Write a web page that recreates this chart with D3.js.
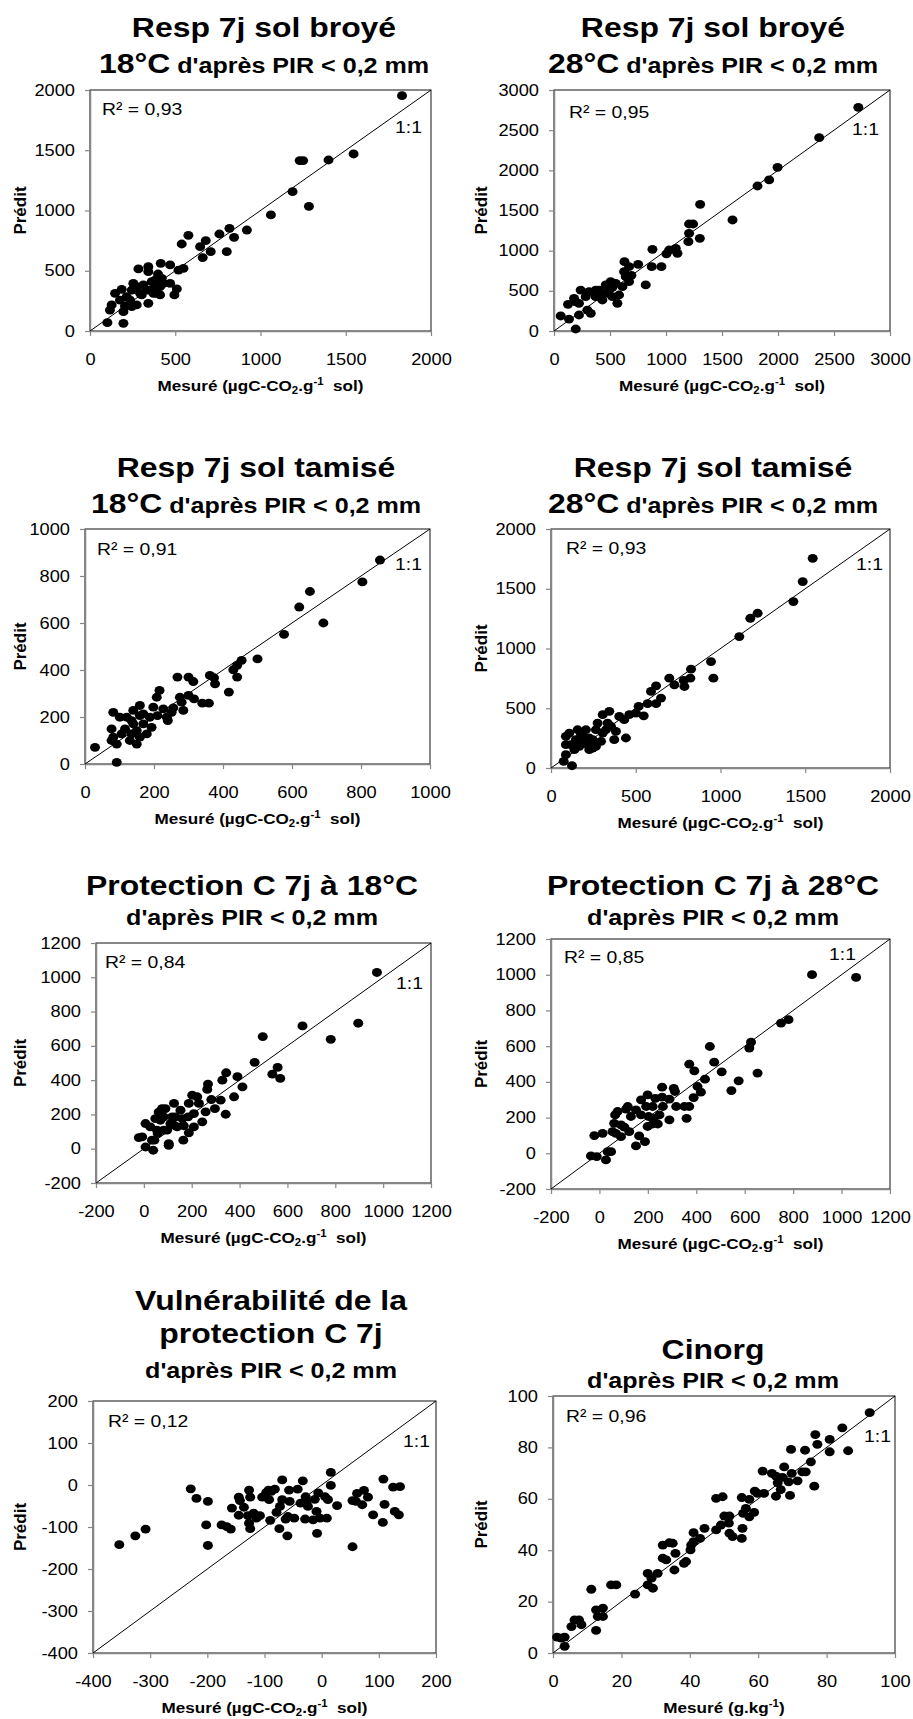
<!DOCTYPE html>
<html>
<head>
<meta charset="utf-8">
<script src="https://cdn.jsdelivr.net/npm/d3@7/dist/d3.min.js"></script>
<style>
  body { margin: 0; background: #fff; }
</style>
</head>
<body>
<svg id="chart"></svg>
<script>
// ---- data : [measured, predicted] ----
var broye18 = [[1830,1953],[1230,1414],[1250,1414],[1399,1419],[1546,1469],[1188,1156],[1284,1035],[1061,963],[920,838],[818,852],[845,777],[759,805],[802,658],[708,658],[679,750],[646,700],[661,609],[577,794],[538,722],[548,520],[519,506],[495,299],[509,349],[470,548],[415,562],[470,396],[411,368],[399,473],[382,423],[342,534],[342,492],[342,230],[284,515],[274,368],[313,382],[254,396],[245,340],[215,285],[186,346],[147,313],[127,216],[117,174],[196,160],[196,64],[102,69],[176,257],[235,257],[274,216],[294,313],[352,340],[372,313],[391,313],[411,299],[382,368],[362,409],[421,437],[431,396],[333,340],[205,207],[245,202],[303,299]];

var broye28 = [[2717,2784],[2368,2407],[1996,2037],[1921,1880],[1817,1805],[1594,1382],[1305,1577],[1302,1154],[1206,1332],[1242,1332],[1206,1216],[1200,1112],[1102,967],[1087,1029],[1028,1008],[1004,959],[879,1017],[873,801],[959,801],[819,573],[751,830],[691,693],[670,801],[629,863],[670,614],[626,739],[611,552],[566,344],[551,593],[506,614],[492,510],[447,469],[402,510],[372,427],[313,490],[283,427],[238,510],[223,344],[179,407],[328,220],[298,261],[223,199],[188,365],[125,332],[134,149],[60,187],[194,25],[462,573],[521,544],[432,386],[372,510],[581,448],[521,427],[641,676],[477,469],[417,448]];

var tamise18 = [[855,868],[804,775],[691,600],[652,734],[621,668],[577,552],[500,447],[454,441],[441,420],[430,401],[441,370],[417,306],[377,341],[362,377],[374,367],[359,259],[340,259],[314,351],[300,370],[316,277],[300,292],[280,263],[285,228],[268,370],[275,284],[216,313],[208,284],[198,242],[210,206],[227,235],[237,199],[240,185],[251,220],[256,239],[193,156],[179,128],[169,171],[159,206],[159,249],[140,228],[135,185],[150,142],[140,171],[150,85],[130,100],[116,149],[121,199],[101,199],[82,220],[77,149],[82,114],[77,100],[92,85],[92,7],[29,71],[106,128],[159,114],[188,199],[169,213],[135,128]];

var tamise28 = [[1544,1755],[1485,1560],[1430,1393],[1219,1295],[1176,1253],[1111,1100],[944,891],[958,752],[826,827],[822,752],[787,682],[783,733],[698,752],[728,696],[620,688],[590,641],[649,585],[620,538],[570,538],[517,515],[547,437],[501,460],[462,446],[432,404],[403,432],[442,251],[383,306],[373,237],[344,474],[305,446],[334,376],[305,292],[295,223],[275,376],[265,320],[226,251],[216,195],[246,167],[206,320],[177,279],[157,320],[187,209],[147,237],[108,292],[88,265],[88,195],[118,195],[88,111],[75,56],[124,19],[226,153],[265,181],[197,251],[324,320],[354,348],[246,237],[167,181],[138,153]];

var prot18 = [[974,1028],[896,732],[781,638],[663,716],[570,410],[559,474],[537,435],[497,654],[463,504],[412,361],[391,420],[377,303],[344,443],[328,400],[342,201],[321,283],[297,234],[282,287],[268,377],[265,346],[258,215],[244,157],[223,303],[202,312],[209,205],[188,264],[185,186],[167,134],[188,93],[165,50],[161,176],[126,264],[132,186],[153,225],[139,127],[111,146],[90,234],[83,186],[97,108],[104,30],[104,20],[69,166],[55,108],[48,176],[44,50],[39,-9],[7,10],[7,147],[27,127],[34,50],[-21,65],[-7,69],[58,89],[126,137],[62,214],[76,234],[209,127],[230,264],[118,186],[83,108]];

var prot28 = [[1060,985],[878,1000],[781,748],[750,729],[626,622],[619,589],[456,598],[474,510],[505,456],[575,406],[653,449],[545,351],[436,415],[405,374],[419,342],[389,312],[392,462],[371,499],[307,364],[312,346],[259,370],[259,314],[289,303],[262,262],[317,262],[351,262],[360,196],[289,187],[248,215],[220,262],[220,164],[203,206],[193,262],[199,327],[231,308],[224,196],[199,150],[188,65],[172,215],[164,97],[151,41],[151,243],[172,299],[117,262],[130,206],[110,247],[103,146],[89,159],[75,234],[65,215],[61,168],[68,112],[54,121],[89,93],[123,121],[13,112],[-21,99],[-35,-15],[-11,-19],[34,9],[27,-37],[48,9],[371,262],[241,164]];

var vulnerab = [[-354,-142],[-326,-121],[-308,-105],[-229,-9],[-219,-32],[-199,-39],[-202,-95],[-199,-144],[-175,-95],[-166,-99],[-159,-105],[-157,-55],[-145,-29],[-143,-37],[-136,-53],[-145,-72],[-129,-73],[-127,-12],[-125,-29],[-127,-91],[-125,-104],[-119,-67],[-114,-79],[-108,-73],[-104,-29],[-97,-18],[-93,-12],[-92,-35],[-88,-15],[-82,-10],[-90,-84],[-79,-65],[-73,-51],[-69,12],[-69,-35],[-74,-104],[-63,-81],[-60,-121],[-57,-12],[-56,-39],[-59,-75],[-48,-79],[-42,-10],[-33,10],[-37,-43],[-29,-81],[-28,-28],[-24,-51],[-27,-39],[-12,-34],[-15,-83],[-9,-63],[-6,-19],[-8,-115],[-3,-79],[6,-28],[11,-35],[9,-79],[16,30],[16,-1],[27,-49],[54,-37],[54,-147],[62,-20],[71,-47],[74,-13],[81,-29],[90,-71],[108,14],[110,-46],[107,-89],[125,-5],[128,-63],[137,-4],[135,-71],[60,-39]];

var cinorg = [[92.6,93.5],[84.6,87.6],[76.7,85.0],[80.9,83.1],[77.3,81.2],[86.3,78.7],[80.9,78.3],[69.6,79.2],[73.7,78.9],[75.4,74.4],[73.9,70.5],[72.9,70.5],[76.4,64.9],[71.5,67.0],[69.8,69.9],[69.3,61.3],[68.9,66.6],[67.1,68.3],[67.6,72.4],[65.2,68.8],[64.0,69.9],[65.2,61.0],[66.6,63.6],[65.7,66.2],[61.3,70.8],[61.7,62.1],[59.0,63.0],[59.8,62.1],[57.4,59.8],[55.2,60.5],[58.8,54.7],[57.4,53.0],[56.4,56.3],[55.6,54.3],[55.4,48.5],[55.2,44.6],[52.5,45.3],[51.6,46.6],[51.4,50.5],[51.6,53.3],[50.1,53.3],[49.6,60.8],[47.7,60.2],[49.1,49.8],[47.7,47.9],[44.3,48.5],[43.0,44.6],[41.1,46.8],[41.1,43.3],[40.4,42.0],[40.2,40.1],[38.9,35.6],[38.3,34.9],[35.8,38.8],[35.0,42.7],[34.0,42.9],[32.1,42.0],[32.1,36.9],[33.1,36.2],[35.5,32.3],[30.6,31.0],[27.7,31.0],[27.7,26.5],[29.2,25.2],[28.8,29.1],[24.0,22.9],[18.5,26.5],[17.0,26.5],[11.2,24.8],[14.6,17.5],[12.6,16.8],[12.6,8.8],[13.1,14.2],[14.6,14.2],[8.3,11.0],[7.6,12.9],[6.3,12.9],[5.4,10.3],[3.4,2.6],[3.4,6.2],[1.2,6.2],[2.4,5.8]];

// tick labels
var ticks2000 = [0,500,1000,1500,2000];
var ticks3000 = [0,500,1000,1500,2000,2500,3000];
var ticks1000 = [0,200,400,600,800,1000];
var ticksProt = [-200,0,200,400,600,800,1000,1200];
var ticksVuln = [-400,-300,-200,-100,0,100,200];
var ticksCin  = [0,20,40,60,80,100];

var r2Labels = ["R² = 0,93","R² = 0,95","R² = 0,91","R² = 0,93","R² = 0,84","R² = 0,85","R² = 0,12","R² = 0,96"];

var titles = [
    [["Resp 7j sol broyé"], ["18°C", " d'après PIR < 0,2 mm"]],
    [["Resp 7j sol broyé"], ["28°C", " d'après PIR < 0,2 mm"]],
    [["Resp 7j sol tamisé"], ["18°C", " d'après PIR < 0,2 mm"]],
    [["Resp 7j sol tamisé"], ["28°C", " d'après PIR < 0,2 mm"]],
    [["Protection C 7j à 18°C"], ["d'après PIR < 0,2 mm"]],
    [["Protection C 7j à 28°C"], ["d'après PIR < 0,2 mm"]],
    [["Vulnérabilité de la"], ["protection C 7j"], ["d'après PIR < 0,2 mm"]],
    [["Cinorg"], ["d'après PIR < 0,2 mm"]]
];

// x axis titles : [text, kind]
var xTitleResp = [["Mesuré (µgC-CO",""],["2","sub"],[".g",""],["-1","sup"],["\u00a0 sol)",""]];
var xTitleCin  = [["Mesuré (g.kg",""],["-1","sup"],[")",""]];

// ---- layout ----
var W = 913, H = 1719;
var FONT = "'Liberation Sans', Arial, sans-serif";
var SX = 1.14;   // the reference text is a bit wider than Arial

var panels = [
    {data: broye18,  dom: [0,2000],    ticks: ticks2000, l: 90,  r: 431, t: 90,   b: 331,  cx: 264, tb: [37,73],        r2: [102,115],  one: [422,133],  xt: xTitleResp},
    {data: broye28,  dom: [0,3000],    ticks: ticks3000, l: 554, r: 890, t: 90,   b: 331,  cx: 713, tb: [37,73],        r2: [569,118],  one: [879,135],  xt: xTitleResp},
    {data: tamise18, dom: [0,1000],    ticks: ticks1000, l: 85,  r: 430, t: 529,  b: 764,  cx: 256, tb: [477,513],      r2: [97,555],   one: [422,570],  xt: xTitleResp},
    {data: tamise28, dom: [0,2000],    ticks: ticks2000, l: 551, r: 890, t: 529,  b: 768,  cx: 713, tb: [477,513],      r2: [566,554],  one: [883,570],  xt: xTitleResp},
    {data: prot18,   dom: [-200,1200], ticks: ticksProt, l: 96,  r: 431, t: 943,  b: 1183, cx: 252, tb: [895,925],      r2: [105,968],  one: [423,989],  xt: xTitleResp},
    {data: prot28,   dom: [-200,1200], ticks: ticksProt, l: 551, r: 890, t: 939,  b: 1189, cx: 713, tb: [895,925],      r2: [564,963],  one: [856,960],  xt: xTitleResp},
    {data: vulnerab, dom: [-400,200],  ticks: ticksVuln, l: 93,  r: 436, t: 1401, b: 1653, cx: 271, tb: [1310,1343,1378], r2: [108,1427], one: [430,1447], xt: xTitleResp},
    {data: cinorg,   dom: [0,100],     ticks: ticksCin,  l: 553, r: 895, t: 1396, b: 1653, cx: 713, tb: [1359,1388],    r2: [566,1422], one: [891,1442], xt: xTitleCin}
];

var svg = d3.select("#chart")
    .attr("width", W)
    .attr("height", H)
    .style("font-family", FONT);

// wide text helper
function wideText(parent, x, y, anchor){
    return parent.append("g")
        .attr("transform", "translate(" + x + "," + y + ") scale(" + SX + ",1)")
        .append("text")
        .attr("text-anchor", anchor)
        .attr("fill", "#000");
}

panels.forEach(function(p, i){
    var g = svg.append("g");

    var x = d3.scaleLinear().domain(p.dom).range([p.l, p.r]);
    var y = d3.scaleLinear().domain(p.dom).range([p.b, p.t]);

    // title
    titles[i].forEach(function(line, k){
        var txt = wideText(g, p.cx, p.tb[k], "middle").attr("font-weight", "bold");
        line.forEach(function(seg){
            var small = seg.indexOf("d'après") >= 0;
            txt.append("tspan")
                .attr("font-size", small ? 22 : 28)
                .text(seg.replace(/^ /, "\u00a0"));
        });
    });

    // plot frame
    g.append("rect")
        .attr("x", p.l).attr("y", p.t)
        .attr("width", p.r - p.l).attr("height", p.b - p.t)
        .attr("fill", "none")
        .attr("stroke", "#111")
        .attr("stroke-width", 1);

    // axes
    var fmt = function(d){ return String(d); };
    var gx = g.append("g")
        .attr("transform", "translate(0," + p.b + ")")
        .call(d3.axisBottom(x).tickValues(p.ticks).tickSize(5).tickSizeOuter(0).tickPadding(18).tickFormat(fmt));
    var gy = g.append("g")
        .attr("transform", "translate(" + p.l + ",0)")
        .call(d3.axisLeft(y).tickValues(p.ticks).tickSize(5).tickSizeOuter(0).tickPadding(10).tickFormat(fmt));

    [gx, gy].forEach(function(ax){
        ax.select(".domain").attr("stroke", "#868686").attr("stroke-width", 1.5);
        ax.selectAll(".tick line").attr("stroke", "#868686").attr("stroke-width", 1.2);
        ax.selectAll("text")
            .attr("font-family", FONT)
            .attr("font-size", 16)
            .attr("fill", "#000");
    });
    gx.selectAll("text").attr("transform", "scale(" + SX + ",1)");
    gy.selectAll("text")
        .attr("x", -15 / SX)
        .attr("transform", "scale(" + SX + ",1)");

    // 1:1 line
    g.append("line")
        .attr("x1", x(p.dom[0])).attr("y1", y(p.dom[0]))
        .attr("x2", x(p.dom[1])).attr("y2", y(p.dom[1]))
        .attr("stroke", "#000")
        .attr("stroke-width", 1);

    // points
    g.selectAll("ellipse")
        .data(p.data)
        .enter().append("ellipse")
        .attr("cx", function(d){ return x(d[0]); })
        .attr("cy", function(d){ return y(d[1]); })
        .attr("rx", 5)
        .attr("ry", 4.4)
        .attr("fill", "#000");

    // labels in plot
    wideText(g, p.r2[0], p.r2[1], "start").attr("font-size", 17).text(r2Labels[i]);
    wideText(g, p.one[0], p.one[1], "end").attr("font-size", 17).text("1:1");

    // y title
    var my = (p.t + p.b) / 2;
    var yx = (i % 2 === 0) ? 26 : 487;
    g.append("text")
        .attr("transform", "translate(" + yx + "," + my + ") rotate(-90)")
        .attr("text-anchor", "middle")
        .attr("font-weight", "bold")
        .attr("font-size", 17)
        .text("Prédit");

    // x title
    var xt = wideText(g, (p.l + p.r) / 2, p.b + 60, "middle")
        .attr("font-weight", "bold")
        .attr("font-size", 15);
    var shift = 0;
    p.xt.forEach(function(seg){
        var ts = xt.append("tspan").text(seg[0]);
        var want = seg[1] === "sub" ? 3 : (seg[1] === "sup" ? -6 : 0);
        if (want !== shift) ts.attr("dy", want - shift);
        if (seg[1]) ts.attr("font-size", 10);
        shift = want;
    });
});
</script>
</body>
</html>
